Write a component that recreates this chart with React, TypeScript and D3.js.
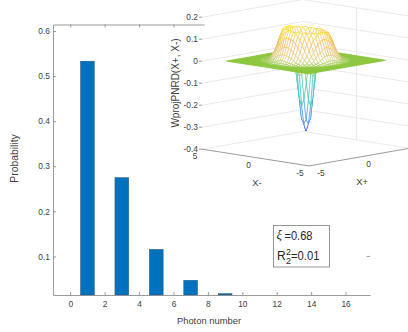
import React, { useRef, useEffect } from 'react';
import * as d3 from 'd3';

// main bar chart values
const photonNumbers = [1, 3, 5, 7, 9];
const probabilities = [0.533, 0.2745, 0.1155, 0.047, 0.0173];
const xTicks = [0, 2, 4, 6, 8, 10, 12, 14, 16];
const yTicks = [0.1, 0.2, 0.3, 0.4, 0.5, 0.6];

const profileRadius = [0, 0.15, 0.34, 0.5, 0.65, 0.85, 1.05, 1.3, 1.5, 1.75, 2.05, 2.4, 2.8, 4, 6];
const profileZ = [-0.32, -0.3, -0.255, -0.155, -0.06, 0.025, 0.09, 0.135, 0.14, 0.105, 0.05, 0.012, 0.002, 0, 0];
const rimAngle = [-180, -135, -90, -45, 0, 45, 90, 135, 180];
const rimScale = [1, 1, 1.04, 1.1, 1.06, 1, 0.95, 0.92, 1];
const insetZTicks = [0.2, 0.1, 0, -0.1, -0.2, -0.3, -0.4];
const colorStops = [-0.32, -0.22, -0.12, -0.04, 0, 0.03, 0.09, 0.15];
const colorValues = ['#4b3fe3', '#2b8fe6', '#27bdc4', '#62c583', '#8cc63f', '#e0c87a', '#f7b24a', '#fbe62c'];

const INK = '#404040';
const AXIS = '#808080';
const FONT = '"Liberation Sans", Arial, sans-serif';

const App = () => {
    const svgRef = useRef<SVGSVGElement>(null);

    useEffect(() => {
        const svg = d3.select(svgRef.current);
        svg.selectAll('*').remove();
        svg.style('font-family', FONT);

        const x = d3.scaleLinear().domain([-1, 17.42]).range([53, 370]);
        const y = d3.scaleLinear().domain([0.0144, 0.6144]).range([295, 24.5]);

        const styleAxis = (g: any) => {
            g.selectAll('path').attr('stroke', AXIS).attr('stroke-width', 0.8);
            g.selectAll('line').attr('stroke', AXIS).attr('stroke-width', 0.8);
            g.selectAll('text').attr('fill', INK).style('font-size', '8.4px').style('font-family', FONT);
        };

        // bars
        svg.append('g')
            .selectAll('rect')
            .data(photonNumbers)
            .enter()
            .append('rect')
            .attr('x', d => x(d - 0.4))
            .attr('y', (d, i) => y(probabilities[i]))
            .attr('width', x(0.8) - x(0))
            .attr('height', (d, i) => 295 - y(probabilities[i]))
            .attr('fill', '#0072bd')
            .attr('stroke', '#27527a')
            .attr('stroke-width', 0.5);

        svg.append('g')
            .attr('transform', 'translate(0,295)')
            .call(d3.axisBottom(x).tickValues(xTicks).tickSize(-3).tickPadding(6).tickSizeOuter(0))
            .call(styleAxis);

        svg.append('g')
            .attr('transform', 'translate(53,0)')
            .call(d3.axisLeft(y).tickValues(yTicks).tickFormat(d3.format('.1f')).tickSize(-3).tickPadding(3).tickSizeOuter(0))
            .call(styleAxis);

        svg.append('g')
            .attr('transform', 'translate(0,24.5)')
            .call(d3.axisTop(x).tickValues(xTicks).tickFormat(() => '').tickSize(-3).tickSizeOuter(0))
            .call(styleAxis);

        // inset sits on a white panel over the upper right of the main axes
        svg.append('rect')
            .attr('x', 204.5)
            .attr('y', 0)
            .attr('width', 204)
            .attr('height', 190)
            .attr('fill', 'white');

        // stray right-hand tick left visible at 0.1
        svg.append('line')
            .attr('x1', 366.5)
            .attr('x2', 370)
            .attr('y1', y(0.1))
            .attr('y2', y(0.1))
            .attr('stroke', AXIS)
            .attr('stroke-width', 0.8);

        svg.append('text')
            .attr('transform', 'translate(18,158.5) rotate(-90)')
            .attr('text-anchor', 'middle')
            .attr('fill', INK)
            .style('font-size', '10.4px')
            .text('Probability');

        svg.append('text')
            .attr('x', 209)
            .attr('y', 323.5)
            .attr('text-anchor', 'middle')
            .attr('fill', INK)
            .style('font-size', '9.4px')
            .text('Photon number');

        // --- inset projection ---
        const cx = 306;
        const cy = 60.7;
        const minusToX = d3.scaleLinear().domain([-5, 5]).range([53.5, -53.5]);
        const minusToY = d3.scaleLinear().domain([-5, 5]).range([8.35, -8.35]);
        const plusToX = d3.scaleLinear().domain([-5, 5]).range([-50.5, 50.5]);
        const plusToY = d3.scaleLinear().domain([-5, 5]).range([8.85, -8.85]);
        const zToY = d3.scaleLinear().domain([0, 1]).range([0, -220]);
        const project = (xm: number, xp: number, z: number): [number, number] => [
            cx + minusToX(xm) + plusToX(xp),
            cy + minusToY(xm) + plusToY(xp) + zToY(z)
        ];

        const inset = svg.append('g');
        const poly = d3.line();

        // wall grid
        insetZTicks.forEach(z => {
            inset.append('path')
                .attr('d', poly([project(5, -5, z), project(5, 5, z), project(-5, 5, z)]))
                .attr('fill', 'none')
                .attr('stroke', '#e3e3e3')
                .attr('stroke-width', 0.8);
        });
        inset.append('path')
            .attr('d', poly([project(0, 5, 0.2), project(0, 5, -0.4)]))
            .attr('stroke', '#e3e3e3')
            .attr('stroke-width', 0.8);

        // front floor edges
        inset.append('path')
            .attr('d', poly([project(5, -5, -0.4), project(-5, -5, -0.4), project(-5, 5, -0.4)]))
            .attr('fill', 'none')
            .attr('stroke', AXIS)
            .attr('stroke-width', 0.8);

        // surface mesh, painted from back to front
        const radial = d3.scaleLinear().domain(profileRadius).range(profileZ).clamp(true);
        const rim = d3.scaleLinear().domain(rimAngle).range(rimScale);
        const zAt = (m: number, p: number) => {
            const z = radial(Math.hypot(m, p));
            return z > 0 ? z * rim((Math.atan2(p, m) * 180) / Math.PI) : z;
        };
        const colorAt = d3.scaleLinear<string>().domain(colorStops).range(colorValues).clamp(true);
        const halfSpan = 3.85;
        const cellCount = 36;
        const nodes = d3.range(cellCount + 1).map(i => -halfSpan + (i * 2 * halfSpan) / cellCount);
        const cells: { a: number; b: number; da: number; db: number }[] = [];
        for (let i = 0; i < cellCount; i++) {
            for (let j = 0; j < cellCount; j++) {
                cells.push({ a: nodes[i], b: nodes[j], da: nodes[i + 1], db: nodes[j + 1] });
            }
        }
        cells.sort((p, q) => q.a + q.b - (p.a + p.b));
        const surface = inset.append('g');
        cells.forEach(c => {
            const corners: [number, number][] = [[c.a, c.b], [c.da, c.b], [c.da, c.db], [c.a, c.db]];
            const zs = corners.map(([m, p]) => zAt(m, p));
            const mean = d3.mean(zs) as number;
            const flat = (d3.max(zs.map(Math.abs)) as number) < 0.002;
            const pts = corners.map(([m, p], k) => project(m, p, zs[k]));
            surface.append('path')
                .attr('d', poly(pts) + 'Z')
                .attr('fill', flat ? '#8cc63f' : 'white')
                .attr('stroke', colorAt(mean))
                .attr('stroke-width', flat ? 0.5 : 0.55);
        });

        // inset tick labels
        insetZTicks.forEach(z => {
            const [px, py] = project(5, -5, z);
            inset.append('line')
                .attr('x1', px - 3)
                .attr('x2', px)
                .attr('y1', py)
                .attr('y2', py)
                .attr('stroke', AXIS)
                .attr('stroke-width', 0.8);
            inset.append('text')
                .attr('x', px - 4)
                .attr('y', py + 3)
                .attr('text-anchor', 'end')
                .attr('fill', INK)
                .style('font-size', '8.4px')
                .text(z === 0 ? '0' : String(z));
        });

        [5, 0, -5].forEach(v => {
            const [px, py] = project(v, -5, -0.4);
            inset.append('text')
                .attr('x', px - 7 + (v === -5 ? -2 : 0))
                .attr('y', py + 10)
                .attr('text-anchor', 'middle')
                .attr('fill', INK)
                .style('font-size', '8.4px')
                .text(v);
        });
        [-5, 0].forEach(v => {
            const [px, py] = project(-5, v, -0.4);
            inset.append('text')
                .attr('x', px + (v === 0 ? 9 : 12))
                .attr('y', py + 10)
                .attr('text-anchor', 'middle')
                .attr('fill', INK)
                .style('font-size', '8.4px')
                .text(v);
        });

        inset.append('text')
            .attr('x', 257)
            .attr('y', 186)
            .attr('text-anchor', 'middle')
            .attr('fill', INK)
            .style('font-size', '9.4px')
            .text('X-');
        inset.append('text')
            .attr('x', 362)
            .attr('y', 185)
            .attr('text-anchor', 'middle')
            .attr('fill', INK)
            .style('font-size', '9.4px')
            .text('X+');
        inset.append('text')
            .attr('transform', 'translate(179,83) rotate(-90)')
            .attr('text-anchor', 'middle')
            .attr('fill', INK)
            .style('font-size', '10px')
            .text('WprojPNRD(X+, X-)');

        // annotation box
        svg.append('rect')
            .attr('x', 273.5)
            .attr('y', 225.5)
            .attr('width', 56)
            .attr('height', 41.5)
            .attr('fill', 'white')
            .attr('stroke', '#7a7a7a')
            .attr('stroke-width', 0.8);

        const note = svg.append('g').attr('fill', '#262626');
        note.append('text')
            .attr('x', 276.5)
            .attr('y', 239)
            .style('font-size', '12.5px')
            .style('font-style', 'italic')
            .style('font-family', '"Liberation Serif", serif')
            .text('ξ');
        note.append('text')
            .attr('x', 284.5)
            .attr('y', 240)
            .attr('textLength', 28)
            .attr('lengthAdjust', 'spacingAndGlyphs')
            .style('font-size', '12px')
            .text('=0.68');
        note.append('text')
            .attr('x', 277)
            .attr('y', 259.5)
            .style('font-size', '12px')
            .text('R');
        note.append('text')
            .attr('x', 286)
            .attr('y', 255)
            .style('font-size', '9px')
            .text('2');
        note.append('text')
            .attr('x', 286)
            .attr('y', 264)
            .style('font-size', '9px')
            .text('2');
        note.append('text')
            .attr('x', 291)
            .attr('y', 259.5)
            .attr('textLength', 28.5)
            .attr('lengthAdjust', 'spacingAndGlyphs')
            .style('font-size', '12px')
            .text('=0.01');
    }, []);

    return (
        <div style={{ position: 'absolute', left: 0, top: 0 }}>
            <svg ref={svgRef} width={408} height={332} style={{ display: 'block' }}></svg>
        </div>
    );
};

export default App;
